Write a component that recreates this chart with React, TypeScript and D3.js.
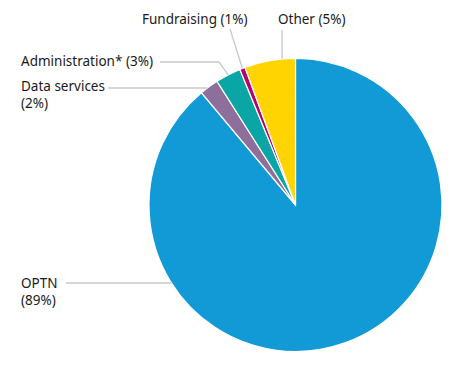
import React from "react";
import * as d3 from "d3";

const categories = ["OPTN", "Data services", "Administration*", "Fundraising", "Other"];
const values = [88.9, 2.1, 2.8, 0.6, 5.6];
const pctLabels = ["89%", "2%", "3%", "1%", "5%"];
const colors = ["#129ad7", "#8e6e9b", "#0aa6a6", "#b8006b", "#ffd400"];

const W = 466, H = 377;
const cx = 295.5, cy = 205, R = 146.5;

const layout = [
  { lines: ["OPTN", "(89%)"], tx: 21, ty: 288, pts: [[66, 283]], endY: 283 },
  { lines: ["Data services", "(2%)"], tx: 21, ty: 91, pts: [[108, 88]], endY: 88 },
  { lines: ["Administration* (3%)"], tx: 21, ty: 66, pts: [[160, 62], [219, 62]], frac: 0.5 },
  { lines: ["Fundraising (1%)"], tx: 142, ty: 24, pts: [[230, 29]], frac: 0.5 },
  { lines: ["Other (5%)"], tx: 278, ty: 24, pts: [[282, 30]], frac: 0.74 },
];

export default function App() {
  const pie = d3.pie<number>().sort(null).value((d) => d);
  const arcs = pie(values);
  const arc = d3.arc<d3.PieArcDatum<number>>().innerRadius(0).outerRadius(R);

  const endPoint = (i: number) => {
    const a = arcs[i];
    const L = layout[i] as any;
    if (L.endY !== undefined) {
      const dy = L.endY - cy;
      const dx = Math.sqrt(R * R - dy * dy);
      return [cx - dx, L.endY];
    }
    const th = a.startAngle + L.frac * (a.endAngle - a.startAngle);
    return [cx + R * Math.sin(th), cy - R * Math.cos(th)];
  };

  return (
    <svg width={W} height={H} style={{ position: "absolute", left: 0, top: 0, background: "#fff" }}
      fontFamily="'Noto Sans', sans-serif" fontSize={13.5}>
      <g transform={`translate(${cx},${cy})`}>
        {arcs.map((a, i) => (
          <path key={i} d={arc(a) || ""} fill={colors[i]} stroke="#fff" strokeWidth={1.2} />
        ))}
      </g>
      {layout.map((L, i) => {
        const e = endPoint(i);
        const pts = [...L.pts, e];
        return (
          <g key={i}>
            <polyline points={pts.map((p) => p.join(",")).join(" ")} fill="none" stroke="#c8c8c8" strokeWidth={1.3} />
            {L.lines.map((t, j) => (
              <text key={j} x={L.tx} y={L.ty + j * 17} fill="#1a1a1a">{t}</text>
            ))}
          </g>
        );
      })}
    </svg>
  );
}
